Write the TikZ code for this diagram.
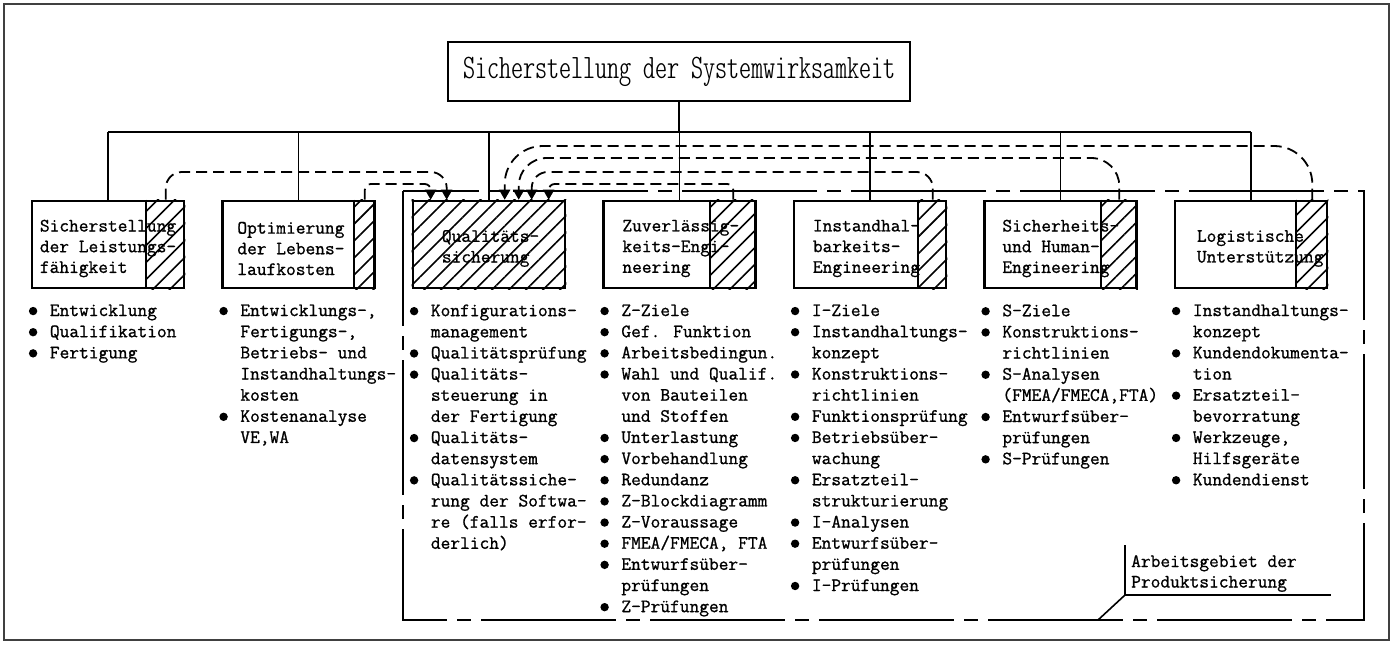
\documentclass[tikz,border=0pt]{standalone}
\usepackage{fontspec}
\setmainfont{Latin Modern Mono}[FakeBold=1]
\newfontfamily\titel{lmmonoltcond10-regular.otf}
\usetikzlibrary{arrows.meta,patterns.meta,positioning}
\newcommand{\pkt}{\makebox[17pt][l]{\hspace*{-4pt}\tikz[baseline=0pt]\fill (4pt,5pt) circle[radius=4.2pt];}}
\newcommand{\ein}{\hspace*{17pt}}
\tikzset{
  linie/.style={line width=1.6pt},
  kasten/.style={draw, line width=2.6pt, minimum width=152pt, minimum height=87pt, inner sep=0pt},
  schraffur/.style={pattern={Lines[angle=45,distance=12pt,line width=1.6pt]}},
  ktext/.style={anchor=west, align=left, inner sep=0pt, font=\fontsize{18.9}{20.7}\selectfont},
  liste/.style={anchor=north west, align=left, inner sep=0pt, font=\fontsize{18.9}{21.15}\selectfont,
    execute at begin node={\rule{0pt}{15pt}}},
  pfeil/.style={line width=1.8pt, dash pattern=on 11pt off 6pt, -{Triangle[width=11pt,length=10pt]}},
  gebiet/.style={line width=1.8pt, dash pattern=on 135pt off 10pt on 14pt off 10pt}
}
\begin{document}
\begin{tikzpicture}[x=1pt, y=-1pt]
\useasboundingbox (0,0) rectangle (1394,646);
\draw[line width=1.5pt, black!75] (4,4) rectangle (1389,640);

\node[draw, line width=2.6pt, minimum width=462pt, minimum height=59pt, inner sep=0pt] (ziel) at (679,71.5)
  {\resizebox{432pt}{!}{\titel Sicherstellung der Systemwirksamkeit}};

\foreach \k/\x in {1/108,2/298.5,3/489,4/679.5,5/870,6/1060.5,7/1251}
  \node[kasten] (b\k) at (\x,244.5) {};

\fill[schraffur] (b3.north west) rectangle (b3.south east);
\foreach \k/\w in {1/39,2/22,4/47,5/29,6/37,7/32}{
  \fill[schraffur] ([xshift=-\w pt]b\k.north east) rectangle (b\k.south east);
  \draw[line width=2pt] ([xshift=-\w pt]b\k.north east) -- ([xshift=-\w pt]b\k.south east);
  \coordinate (h\k) at ([xshift={-0.5*\w pt}]b\k.north east);
}

\coordinate (bus) at (679,132);
\draw[linie] (ziel) -- (bus);
\draw[linie] (b1.north |- bus) -- (b7.north |- bus);
\foreach \k in {1,...,7}
  \draw[linie] (b\k.north |- bus) -- (b\k.north);

\coordinate (g1) at (403,191);
\coordinate (g2) at (1364,620);
\draw[gebiet] (g1) rectangle (g2);

\coordinate (p1) at ([xshift=19pt]b3.north west);
\coordinate (p2) at ([xshift=35pt]b3.north west);
\coordinate (p3) at ([xshift=93pt]b3.north west);
\coordinate (p4) at ([xshift=107pt]b3.north west);
\coordinate (p5) at ([xshift=120pt]b3.north west);
\coordinate (p6) at ([xshift=137pt]b3.north west);
\draw[pfeil, rounded corners=16pt] (h1) -- (h1 |- 0,172) -- (p2 |- 0,172) -- (p2);
\draw[pfeil, rounded corners=6pt] (h2) -- (h2 |- 0,184) -- (p1 |- 0,184) -- (p1);
\draw[pfeil, rounded corners=6pt] (h4) -- (h4 |- 0,184) -- (p6 |- 0,184) -- (p6);
\draw[pfeil, rounded corners=16pt] (h5) -- (h5 |- 0,172) -- (p5 |- 0,172) -- (p5);
\draw[pfeil, rounded corners=28pt] (h6) -- (h6 |- 0,158) -- (p4 |- 0,158) -- (p4);
\draw[pfeil, rounded corners=38pt] (h7) -- (h7 |- 0,146) -- (p3 |- 0,146) -- (p3);

\node[ktext] (l1) at ([shift={(9pt,-4pt)}]b1.west) {Sicherstellung\\der Leistungs-\\fähigkeit};
\node[ktext] (l2) at ([shift={(16pt,-4pt)}]b2.west) {Optimierung\\der Lebens-\\laufkosten};
\node[ktext] (l3) at ([shift={(30pt,-4pt)}]b3.west) {Qualitäts-\\sicherung};
\node[ktext] (l4) at ([shift={(20pt,-4pt)}]b4.west) {Zuverlässig-\\keits-Engi-\\neering};
\node[ktext] (l5) at ([shift={(20pt,-4pt)}]b5.west) {Instandhal-\\barkeits-\\Engineering};
\node[ktext] (l6) at ([shift={(19pt,-4pt)}]b6.west) {Sicherheits-\\und Human-\\Engineering};
\node[ktext] (l7) at ([shift={(23pt,-4pt)}]b7.west) {Logistische\\Unterstützung};

\node[liste] (i1) at ([shift={(2pt,-15pt)}]b1.south west)
  {\pkt Entwicklung\\\pkt Qualifikation\\\pkt Fertigung};
\node[liste] (i2) at ([shift={(2pt,-15pt)}]b2.south west)
  {\pkt Entwicklungs-,\\\ein Fertigungs-,\\\ein Betriebs- und\\\ein Instandhaltungs-\\\ein kosten\\
   \pkt Kostenanalyse\\\ein VE,WA};
\node[liste] (i3) at ([shift={(2pt,-15pt)}]b3.south west)
  {\pkt Konfigurations-\\\ein management\\\pkt Qualitätsprüfung\\\pkt Qualitäts-\\\ein steuerung in\\
   \ein der Fertigung\\\pkt Qualitäts-\\\ein datensystem\\\pkt Qualitätssiche-\\\ein rung der Softwa-\\
   \ein re (falls erfor-\\\ein derlich)};
\node[liste] (i4) at ([shift={(2pt,-15pt)}]b4.south west)
  {\pkt Z-Ziele\\\pkt Gef. Funktion\\\pkt Arbeitsbedingun.\\\pkt Wahl und Qualif.\\\ein von Bauteilen\\
   \ein und Stoffen\\\pkt Unterlastung\\\pkt Vorbehandlung\\\pkt Redundanz\\\pkt Z-Blockdiagramm\\
   \pkt Z-Voraussage\\\pkt FMEA/FMECA, FTA\\\pkt Entwurfsüber-\\\ein prüfungen\\\pkt Z-Prüfungen};
\node[liste] (i5) at ([shift={(2pt,-15pt)}]b5.south west)
  {\pkt I-Ziele\\\pkt Instandhaltungs-\\\ein konzept\\\pkt Konstruktions-\\\ein richtlinien\\
   \pkt Funktionsprüfung\\\pkt Betriebsüber-\\\ein wachung\\\pkt Ersatzteil-\\\ein strukturierung\\
   \pkt I-Analysen\\\pkt Entwurfsüber-\\\ein prüfungen\\\pkt I-Prüfungen};
\node[liste] (i6) at ([shift={(2pt,-15pt)}]b6.south west)
  {\pkt S-Ziele\\\pkt Konstruktions-\\\ein richtlinien\\\pkt S-Analysen\\\ein (FMEA/FMECA,FTA)\\
   \pkt Entwurfsüber-\\\ein prüfungen\\\pkt S-Prüfungen};
\node[liste] (i7) at ([shift={(2pt,-15pt)}]b7.south west)
  {\pkt Instandhaltungs-\\\ein konzept\\\pkt Kundendokumenta-\\\ein tion\\\pkt Ersatzteil-\\
   \ein bevorratung\\\pkt Werkzeuge,\\\ein Hilfsgeräte\\\pkt Kundendienst};

\node[liste, font=\fontsize{18.9}{20.5}\selectfont] (anm) at (1131,555) {Arbeitsgebiet der\\Produktsicherung};
\coordinate (k1) at ([shift={(-6pt,10pt)}]anm.north west);
\coordinate (k2) at (k1 |- 0,595);
\coordinate (k3) at (1098,620);
\draw[linie] (k1) -- (k2) -- (1331,595);
\draw[linie] (k2) -- (k3);
\end{tikzpicture}
\end{document}
